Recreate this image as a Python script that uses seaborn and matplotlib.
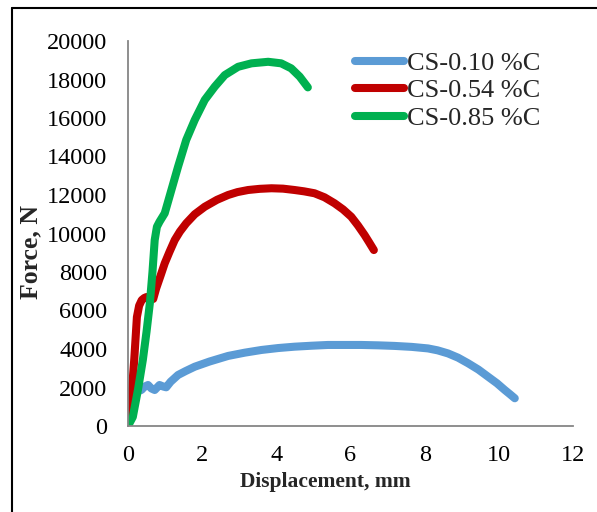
import pandas as pd
import numpy as np
import matplotlib
matplotlib.use("Agg")
import matplotlib.pyplot as plt
import seaborn as sns
from matplotlib.ticker import MultipleLocator
from matplotlib.lines import Line2D

# tensile curves
disp_010 = [0, 0.05, 0.15, 0.25, 0.36, 0.45, 0.54, 0.63, 0.72, 0.85, 0.95, 1.03, 1.15, 1.35, 1.55,
            1.8, 2.2, 2.7, 3.15, 3.6, 4.05, 4.49, 4.95, 5.39, 5.85, 6.29, 6.75, 7.19, 7.65, 8.09,
            8.35, 8.63, 8.9, 9.17, 9.45, 9.71, 9.95, 10.16, 10.3, 10.43]
force_010 = [0, 900, 1700, 1800, 1870, 2050, 2130, 1950, 1870, 2130, 2050, 2010, 2300, 2650, 2850,
             3080, 3350, 3640, 3810, 3950, 4050, 4120, 4170, 4210, 4210, 4210, 4190, 4160, 4110,
             4030, 3930, 3770, 3550, 3260, 2930, 2560, 2220, 1870, 1650, 1440]

disp_054 = [0, 0.05, 0.1, 0.17, 0.24, 0.3, 0.37, 0.44, 0.5, 0.6, 0.68, 0.76, 0.88, 0.99, 1.12,
            1.26, 1.4, 1.57, 1.8, 2.07, 2.4, 2.7, 2.95, 3.24, 3.55, 3.87, 4.18, 4.49, 4.75, 5.03,
            5.3, 5.57, 5.8, 6.02, 6.2, 6.38, 6.5, 6.63]
force_054 = [0, 900, 1700, 3500, 5660, 6250, 6540, 6650, 6700, 6650, 6600, 7150, 7820, 8450, 9050,
             9660, 10100, 10530, 11000, 11390, 11750, 12000, 12150, 12260, 12320, 12350, 12330,
             12260, 12190, 12090, 11880, 11570, 11250, 10870, 10420, 9920, 9550, 9140]

disp_085 = [0, 0.13, 0.27, 0.4, 0.5, 0.59, 0.66, 0.72, 0.78, 0.85, 0.99, 1.17, 1.35, 1.57, 1.8,
            2.07, 2.34, 2.61, 2.97, 3.33, 3.78, 4.13, 4.4, 4.63, 4.85]
force_085 = [0, 470, 1900, 3430, 4900, 6390, 8000, 9660, 10350, 10610, 11050, 12260, 13470, 14860,
             15900, 16940, 17630, 18230, 18660, 18840, 18920, 18840, 18580, 18150, 17590]

labels = ["CS-0.10 %C", "CS-0.54 %C", "CS-0.85 %C"]
colors = ["#5B9BD5", "#C00000", "#00B050"]

df = pd.concat([
    pd.DataFrame({"disp": disp_010, "force": force_010, "steel": labels[0]}),
    pd.DataFrame({"disp": disp_054, "force": force_054, "steel": labels[1]}),
    pd.DataFrame({"disp": disp_085, "force": force_085, "steel": labels[2]}),
], ignore_index=True)

sns.set_style("white")
plt.rcParams["font.family"] = ["Liberation Serif", "DejaVu Serif"]

fig = plt.figure(figsize=(5.97, 5.12), dpi=100)
ax = fig.add_axes([128 / 597, 1 - 426 / 512, 445 / 597, 385 / 512])

sns.lineplot(data=df, x="disp", y="force", hue="steel", palette=colors, sort=False,
             linewidth=5.8, solid_capstyle="round", solid_joinstyle="round", ax=ax)

ax.set_xlim(0, 12)
ax.set_ylim(0, 20000)
ax.xaxis.set_major_locator(MultipleLocator(2))
ax.xaxis.set_minor_locator(MultipleLocator(0.4))
ax.yaxis.set_major_locator(MultipleLocator(2000))
ax.yaxis.set_minor_locator(MultipleLocator(400))

for s in ["top", "right"]:
    ax.spines[s].set_visible(False)
for s in ["left", "bottom"]:
    ax.spines[s].set_color("#868686")
    ax.spines[s].set_linewidth(1.3)

ax.tick_params(which="major", direction="inout", length=10, width=1.2, color="#868686",
               labelsize=17.5, labelcolor="black")
ax.tick_params(which="minor", direction="out", length=5, width=1.0, color="#868686")
ax.tick_params(axis="y", which="major", pad=10)
ax.tick_params(axis="x", which="major", pad=9)

ax.set_xlabel("Displacement, mm", fontsize=15.5, fontweight="bold")
ax.set_ylabel("Force, N", fontsize=18.5, fontweight="bold")
ax.xaxis.set_label_coords((325 - 128) / 445, -0.12)
ax.yaxis.set_label_coords(-0.193, (426 - 252) / 385)

leg = ax.legend(loc="upper left", bbox_to_anchor=(0.487, 1.0), frameon=False, fontsize=19,
                handlelength=1.85, handletextpad=0.1, labelspacing=0.15, borderaxespad=0)
for h in leg.get_lines():
    h.set_linewidth(5.8)
    h.set_solid_capstyle("round")

# outer chart border (left and top edges visible)
fig.add_artist(Line2D([12 / 597, 12 / 597], [0, 1 - 8 / 512], color="black", lw=1.5,
                      transform=fig.transFigure))
fig.add_artist(Line2D([12 / 597, 1], [1 - 8 / 512, 1 - 8 / 512], color="black", lw=1.5,
                      transform=fig.transFigure))

fig.savefig("out.png", dpi=100)
